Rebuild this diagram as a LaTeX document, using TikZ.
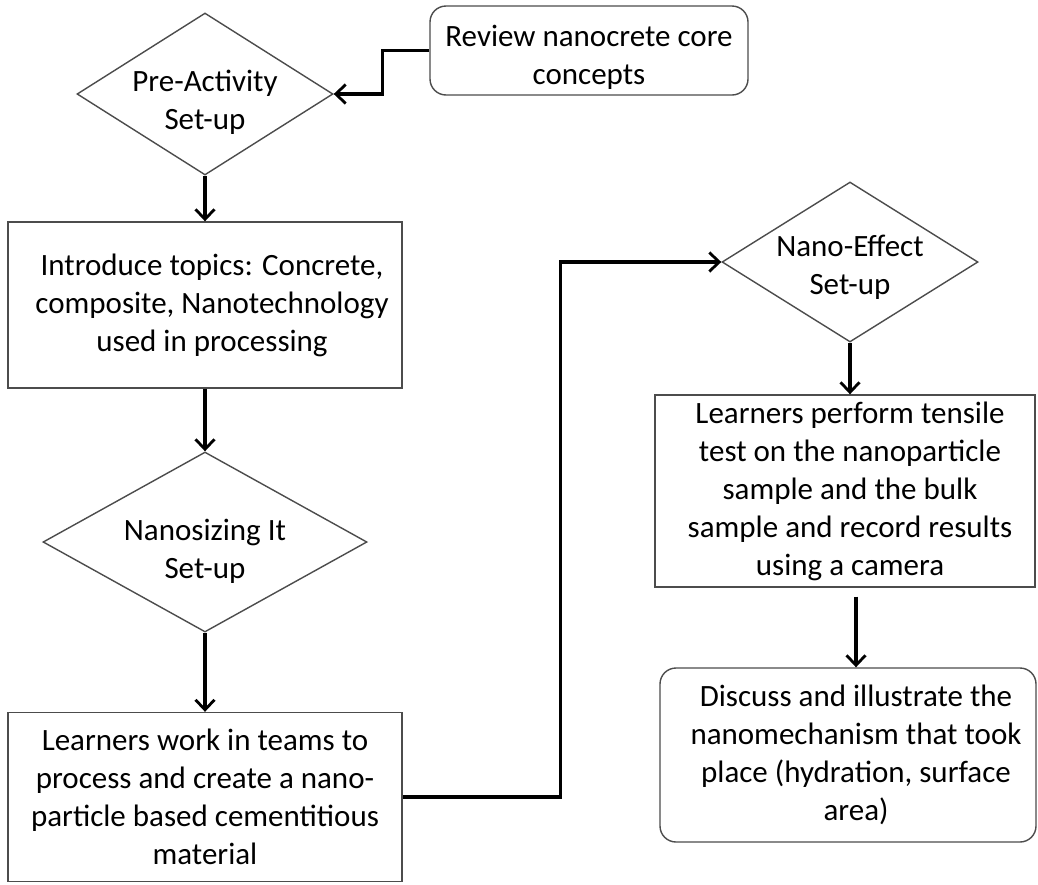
\documentclass[tikz,border=0pt]{standalone}
\usepackage{fontspec}
\setmainfont{Carlito}
\usetikzlibrary{shapes.geometric,arrows.meta}
\newcommand\dtxt[2]{\raisebox{#1}[0pt][0pt]{\begin{tabular}{@{}c@{}}#2\end{tabular}}}
\begin{document}
\begin{tikzpicture}[x=1pt,y=-1pt,
  box/.style={draw=black!70,line width=1.4pt,fill=white,align=center,inner sep=0pt,font=\fontsize{31}{38}\selectfont},
  rbox/.style={box,rounded corners=16pt},
  dec/.style={box,shape=diamond},
  conn/.style={draw=black,line width=3.2pt,-{Straight Barb[length=10pt,width=19pt,line width=2.8pt]}},
  ]
\useasboundingbox (0,0) rectangle (1038,884);
\node[rbox,minimum width=318pt,minimum height=89pt] (review) at (589,50.5) {\dtxt{-14pt}{Review nanocrete core\\concepts}};
\node[dec,minimum width=256pt,minimum height=162pt,aspect=1.58] (pre) at (205,94) {\dtxt{-15pt}{Pre-Activity\\Set-up}};
\node[box,minimum width=394pt,minimum height=166pt] (intro) at (205,305) {\hspace*{14pt}Introduce topics: Concrete,\\\hspace*{14pt}composite, Nanotechnology\\\hspace*{14pt}used in processing};
\node[dec,minimum width=324pt,minimum height=180pt,aspect=1.8] (nsz) at (205,542) {\dtxt{-16pt}{Nanosizing It\\Set-up}};
\node[box,minimum width=394pt,minimum height=169pt] (learn) at (205,797) {Learners work in teams to\\process and create a nano-\\particle based cementitious\\material};
\node[dec,minimum width=256pt,minimum height=160pt,aspect=1.6] (neff) at (850,262) {\dtxt{-12pt}{Nano-Effect\\Set-up}};
\node[box,minimum width=380pt,minimum height=192pt] (tensile) at (845,491) {\hspace*{10pt}Learners perform tensile\\\hspace*{10pt}test on the nanoparticle\\\hspace*{10pt}sample and the bulk\\\hspace*{10pt}sample and record results\\\hspace*{10pt}using a camera};
\node[rbox,minimum width=376pt,minimum height=174pt] (discuss) at (848,755) {\hspace*{16pt}Discuss and illustrate the\\\hspace*{16pt}nanomechanism that took\\\hspace*{16pt}place (hydration, surface\\\hspace*{16pt}area)};
\draw[conn] (review.west) -- ++(-47,0) |- (pre.east);
\draw[conn] (pre.south) -- (intro.north);
\draw[conn] (intro.south) -- (nsz.north);
\draw[conn] (nsz.south) -- (learn.north);
\draw[conn] (learn.east) -- ++(158,0) |- (neff.west);
\draw[conn] (neff.south) -- (tensile.north -| neff.south);
\draw[conn] ([xshift=11pt,yshift=-9pt]tensile.south) -- ([xshift=8pt]discuss.north);
\end{tikzpicture}
\end{document}
